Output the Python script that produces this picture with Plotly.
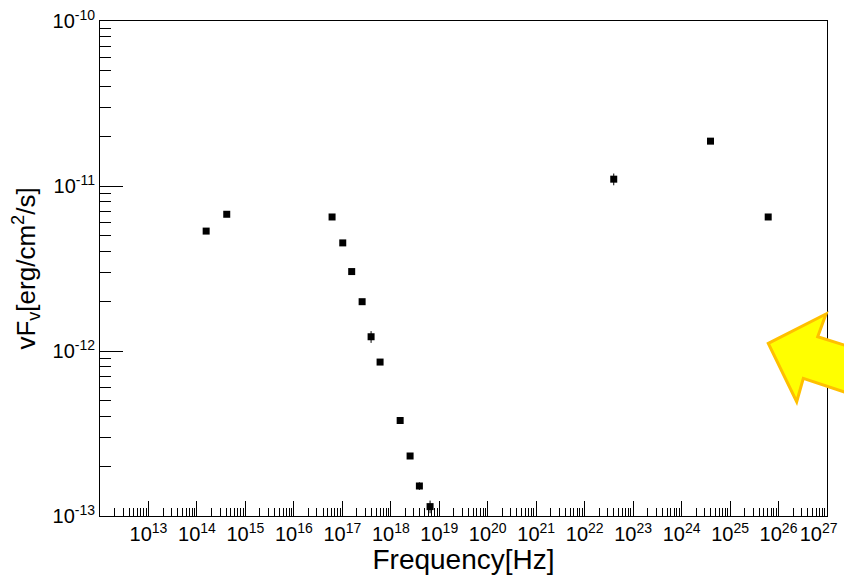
import plotly.graph_objects as go

# ---- data ----
freq = [1.55e14, 4.12e14, 6.14e16, 1.02e17, 1.56e17, 2.56e17, 3.92e17, 6.01e17,
        1.56e18, 2.50e18, 3.89e18, 6.46e18, 3.98e22, 3.95e24, 6.12e25]
flux = [5.33e-12, 6.74e-12, 6.49e-12, 4.52e-12, 3.03e-12, 1.99e-12, 1.22e-12, 8.57e-13,
        3.79e-13, 2.31e-13, 1.52e-13, 1.14e-13, 1.10e-11, 1.87e-11, 6.49e-12]
flux_err = [0.10e-12, 0.12e-12, 0.12e-12, 0.08e-12, 0.06e-12, 0.05e-12, 0.10e-12, 0.03e-12,
            0.012e-12, 0.008e-12, 0.008e-12, 0.010e-12, 0.9e-12, 0.3e-12, 0.1e-12]

x_exps = list(range(13, 28))
x_tickvals = [10.0 ** e for e in x_exps]
x_ticktext = ["10<sup>%d</sup>" % e for e in x_exps]
# last label is pulled inward (as in the reference) by padding it on the right
x_ticktext[-1] = x_ticktext[-1] + "\u00a0\u00a0\u00a0"
y_exps = [-13, -12, -11, -10]
y_tickvals = [10.0 ** e for e in y_exps]
y_ticktext = ["10<sup>%d</sup>" % e for e in y_exps]

x_minor = [k * 10.0 ** e for e in range(12, 27) for k in range(2, 10)]
y_minor = [k * 10.0 ** e for e in range(-13, -10) for k in range(2, 10)]

W, H = 844, 575
ML, MR, MT, MB = 100, 17, 21, 59
PW, PH = W - ML - MR, H - MT - MB

def px2paper(X, Y):
    return (X - ML) / PW, (H - MB - Y) / PH

arrow_px = [(768.3, 343.3), (826, 314), (817.7, 336.7), (852, 347.5),
            (852, 394.5), (803.3, 378.3), (796.7, 401.7)]
pts = [px2paper(x, y) for x, y in arrow_px]
path = "M " + " L ".join("%.5f,%.5f" % p for p in pts) + " Z"

FONT = "Liberation Sans, Arial, Helvetica, sans-serif"

fig = go.Figure()
fig.add_trace(go.Scatter(
    x=freq, y=flux, mode="markers",
    marker=dict(symbol="square", size=7, color="black"),
    error_y=dict(type="data", array=flux_err, color="black", thickness=1, width=0),
    showlegend=False,
))

axis_common = dict(
    type="log", showline=True, linecolor="black", linewidth=1, mirror=True,
    ticks="inside", tickcolor="black", tickwidth=1, showgrid=False, zeroline=False,
    tickfont=dict(family=FONT, size=20, color="black"), automargin=False,
    ticklabeloverflow="allow",
)

fig.update_layout(
    width=W, height=H,
    margin=dict(l=ML, r=MR, t=MT, b=MB, pad=0),
    paper_bgcolor="white", plot_bgcolor="white",
    font=dict(family=FONT, color="black"),
    xaxis=dict(
        **axis_common, range=[12, 27], ticklen=15,
        tickmode="array", tickvals=x_tickvals, ticktext=x_ticktext,
        minor=dict(tickmode="array", tickvals=x_minor, ticks="inside", ticklen=8,
                   tickcolor="black", tickwidth=1, showgrid=False),
        title=dict(text="Frequency[Hz]", font=dict(family=FONT, size=28), standoff=8),
    ),
    yaxis=dict(
        **axis_common, range=[-13, -10], ticklen=23,
        tickmode="array", tickvals=y_tickvals, ticktext=y_ticktext,
        minor=dict(tickmode="array", tickvals=y_minor, ticks="inside", ticklen=11,
                   tickcolor="black", tickwidth=1, showgrid=False),
        title=dict(text="vF<sub>v</sub>[erg/cm<sup>2</sup>/s]",
                   font=dict(family=FONT, size=26), standoff=9),
    ),
    shapes=[dict(type="path", xref="paper", yref="paper", path=path,
                 fillcolor="#FFFF00", line=dict(color="#FFC000", width=3), layer="above")],
)

fig.write_html("out.html", config={"displayModeBar": False},
               post_script="document.body.style.margin='0px';document.body.style.overflow='hidden';")
